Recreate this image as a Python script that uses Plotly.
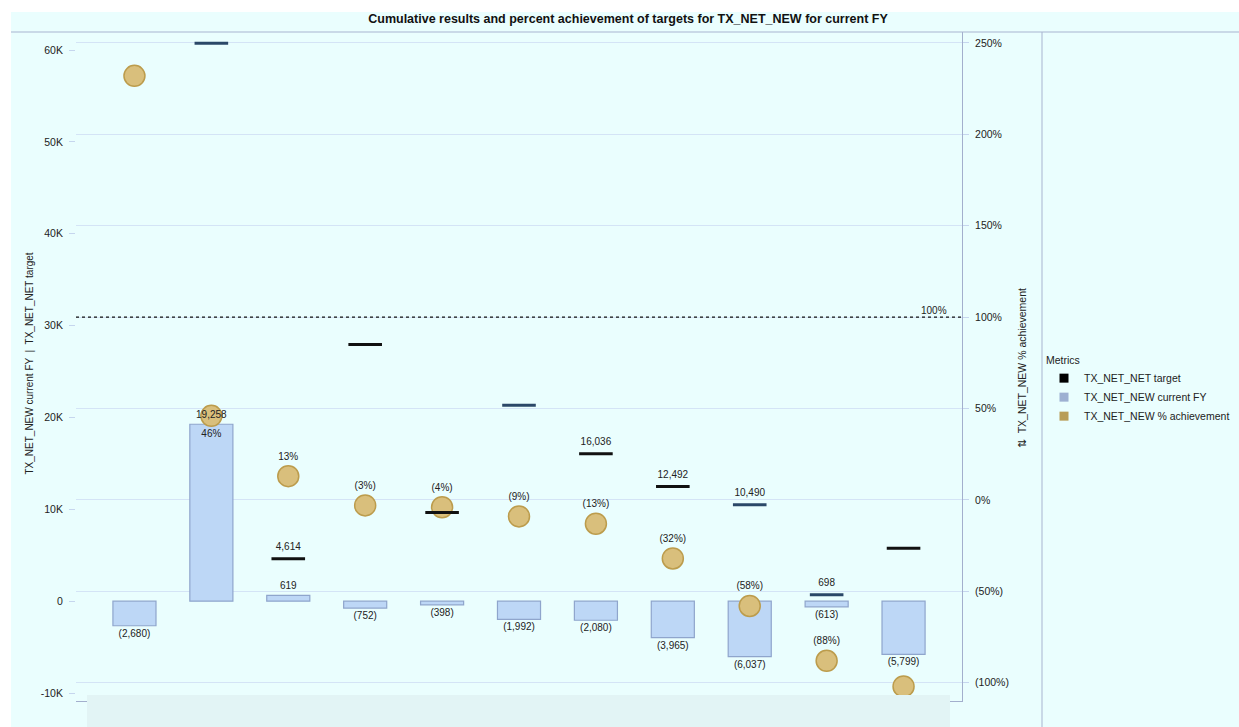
import plotly.graph_objects as go

# ---------------- data ----------------
categories = ["Unit A", "Unit B", "Unit C", "Unit D", "Unit E", "Unit F",
              "Unit G", "Unit H", "Unit I", "Unit J", "Unit K"]
current_fy = [-2680, 19258, 619, -752, -398, -1992, -2080, -3965, -6037, -613, -5799]
targets = [None, 60730, 4614, 27940, 9640, 21340, 16036, 12492, 10490, 698, 5760]
target_label_shown = [False, False, True, False, False, False, True, True, True, True, False]
pct_achievement = [232, 46, 13, -3, -4, -9, -13, -32, -58, -88, -102]
pct_label_shown = [False, True, True, True, True, True, True, True, True, True, False]
left_ticks = [-10000, 0, 10000, 20000, 30000, 40000, 50000, 60000]
right_ticks = [-100, -50, 0, 50, 100, 150, 200, 250]
reference_pct = 100

# ---------------- style ----------------
BG = "#EAFEFE"
FONT = "Arial, Liberation Sans, sans-serif"
BAR_FILL = "#BDD7F6"
BAR_LINE = "#8FA5CC"
CIRCLE_FILL = "#D9BF7C"
CIRCLE_LINE = "#BC9C4C"
GRID = "#D4E4F6"
AXIS = "#A3AFCD"
TXT = "#222222"
CLEAR = "rgba(0,0,0,0)"
target_colors = ["#111111", "#2B4868", "#111111", "#111111", "#111111", "#2B4868",
                 "#111111", "#111111", "#2B4868", "#2B4868", "#111111"]

W, H = 1239, 727
L, R, T, B = 76, 1239 - 962, 32, 727 - 701


def fmt_num(v):
    return f"({abs(v):,})" if v < 0 else f"{v:,}"


def fmt_pct(v):
    return f"({abs(v)}%)" if v < 0 else f"{v}%"


def px_x(p):
    return (p - L) / (W - L - R)


def px_y(p):
    return (H - B - p) / (H - T - B)


x = list(range(len(categories)))

fig = go.Figure()

# bars: current FY
fig.add_trace(go.Bar(
    x=x, y=current_fy, yaxis="y", width=0.56,
    marker=dict(color=BAR_FILL, line=dict(color=BAR_LINE, width=1.2)),
    showlegend=False, name="TX_NET_NEW current FY",
))

# percent achievement circles
fig.add_trace(go.Scatter(
    x=x, y=pct_achievement, yaxis="y2", mode="markers+text",
    marker=dict(symbol="circle", size=21, color=CIRCLE_FILL,
                line=dict(color=CIRCLE_LINE, width=1.5)),
    text=[fmt_pct(v) if s else "" for v, s in zip(pct_achievement, pct_label_shown)],
    textposition=["top center", "bottom center"] + ["top center"] * 9,
    textfont=dict(family=FONT, size=10, color=TXT),
    cliponaxis=True, showlegend=False, name="TX_NET_NEW % achievement",
))

# targets (on a top overlay sharing the left scale)
fig.add_trace(go.Scatter(
    x=x, y=targets, yaxis="y3", mode="markers",
    marker=dict(symbol="line-ew", size=24, color=target_colors,
                line=dict(color=target_colors, width=3)),
    showlegend=False, name="TX_NET_NET target", cliponaxis=False,
))
fig.add_trace(go.Scatter(
    x=x, y=targets, yaxis="y3", mode="markers+text",
    marker=dict(size=8, color=CLEAR, line=dict(width=0)),
    text=[fmt_num(v) if (s and v is not None) else "" for v, s in zip(targets, target_label_shown)],
    textposition="top center",
    textfont=dict(family=FONT, size=10, color=TXT),
    showlegend=False, cliponaxis=False, hoverinfo="skip",
))
# bar value labels (drawn above the circles)
fig.add_trace(go.Scatter(
    x=x, y=current_fy, yaxis="y3", mode="markers+text",
    marker=dict(size=4, color=CLEAR, line=dict(width=0)),
    text=[fmt_num(v) for v in current_fy],
    textposition=["top center" if v >= 0 else "bottom center" for v in current_fy],
    textfont=dict(family=FONT, size=10, color=TXT),
    showlegend=False, cliponaxis=False, hoverinfo="skip",
))

# legend entries (square swatches)
for nm, col in [("TX_NET_NET target", "#000000"),
                ("TX_NET_NEW current FY", "#9DB0D2"),
                ("TX_NET_NEW % achievement", "#B89D57")]:
    fig.add_trace(go.Scatter(x=[None], y=[None], mode="markers", name=nm,
                             marker=dict(symbol="square", size=9, color=col)))

shapes = [
    dict(type="rect", xref="paper", yref="paper", x0=px_x(0), x1=px_x(W), y0=px_y(12), y1=px_y(0),
         fillcolor="white", line=dict(width=0), layer="below"),
    dict(type="rect", xref="paper", yref="paper", x0=px_x(0), x1=px_x(11), y0=px_y(H), y1=px_y(0),
         fillcolor="white", line=dict(width=0), layer="below"),
    dict(type="line", xref="paper", yref="paper", x0=px_x(11), x1=px_x(W), y0=1, y1=1,
         line=dict(color="#A8B4D0", width=1)),
    dict(type="line", xref="paper", yref="paper", x0=px_x(1042), x1=px_x(1042), y0=px_y(H), y1=1,
         line=dict(color="#A8B4D0", width=1)),
    dict(type="line", xref="paper", yref="y2", x0=0, x1=1, y0=reference_pct, y1=reference_pct,
         line=dict(color="#111111", width=1.2, dash="dot")),
    dict(type="rect", xref="paper", yref="paper", x0=px_x(87), x1=px_x(950), y0=px_y(H), y1=px_y(695),
         fillcolor="#E2F4F5", line=dict(width=0), layer="above"),
]

annotations = [
    dict(xref="paper", yref="y2", x=0.985, y=reference_pct, text=fmt_pct(reference_pct),
         showarrow=False, xanchor="right", yanchor="bottom", yshift=-1,
         font=dict(family=FONT, size=10, color=TXT)),
    dict(xref="paper", yref="paper", x=px_x(21), y=px_y(364), textangle=-90,
         text="TX_NET_NEW current FY  |  TX_NET_NET target", showarrow=False,
         font=dict(family=FONT, size=10, color=TXT)),
    dict(xref="paper", yref="paper", x=px_x(1030), y=px_y(368), textangle=-90,
         text="\u21c5  TX_NET_NEW % achievement", showarrow=False,
         font=dict(family=FONT, size=10.5, color=TXT)),
]

fig.update_layout(
    width=W, height=H,
    margin=dict(l=L, r=R, t=T, b=B, autoexpand=False),
    paper_bgcolor=BG, plot_bgcolor=BG,
    font=dict(family=FONT, size=10, color=TXT),
    title=dict(text="<b>Cumulative results and percent achievement of targets for TX_NET_NEW for current FY</b>",
               x=628 / W, xanchor="center", y=1 - 19 / H, yanchor="middle",
               font=dict(family=FONT, size=12.5, color="#111111")),
    xaxis=dict(range=[-0.76, 10.76], tickvals=x, ticktext=categories, showticklabels=False,
               showgrid=False, zeroline=False, showline=True, linecolor=AXIS, ticks=""),
    yaxis=dict(range=[-10870, 61960], tickvals=left_ticks,
               ticktext=[f"{v // 1000}K" if v else "0" for v in left_ticks],
               showgrid=False, zeroline=False, showline=False,
               ticks="outside", ticklen=6, tickcolor="#C6D6EE", ticklabelstandoff=4,
               tickfont=dict(family=FONT, size=10.5, color=TXT)),
    yaxis2=dict(range=[-110, 256], overlaying="y", side="right", tickvals=right_ticks,
                ticktext=[fmt_pct(v) for v in right_ticks],
                showgrid=True, gridcolor=GRID, gridwidth=1, zeroline=False,
                showline=True, linecolor=AXIS, ticks="outside", ticklen=6, tickcolor="#C6D6EE",
                ticklabelstandoff=4,
                tickfont=dict(family=FONT, size=10.5, color=TXT)),
    yaxis3=dict(range=[-10870, 61960], overlaying="y", visible=False),
    legend=dict(title=dict(text="Metrics", font=dict(family=FONT, size=10.5, color=TXT)),
                x=px_x(1044), y=px_y(350), xanchor="left", yanchor="top",
                bgcolor="rgba(0,0,0,0)", font=dict(family=FONT, size=10.5, color=TXT),
                itemwidth=30, tracegroupgap=0),
    shapes=shapes, annotations=annotations,
    showlegend=True,
)

fig.write_html("out.html", config={"displayModeBar": False},
               post_script="document.body.style.margin='0';document.body.style.overflow='hidden';")
